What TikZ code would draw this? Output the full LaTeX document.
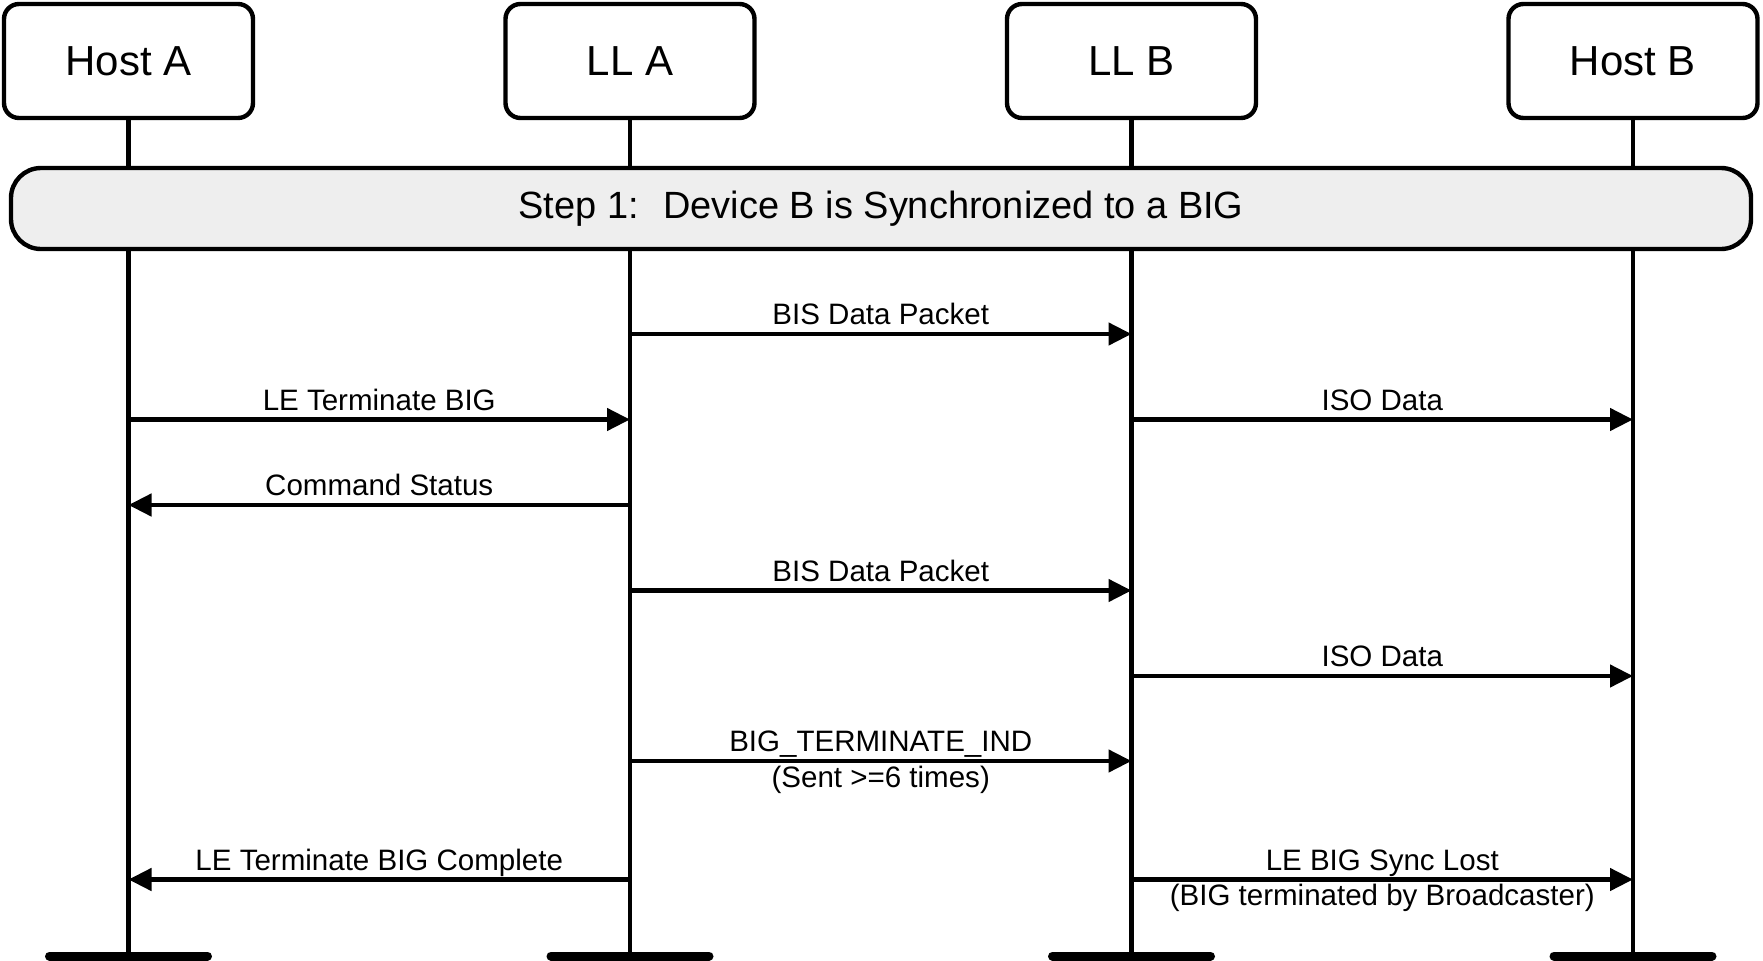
\documentclass[tikz,border=0pt]{standalone}
\usepackage{fontspec}
\setmainfont{Liberation Sans}
\usetikzlibrary{arrows.meta}
\definecolor{stepgray}{RGB}{238,238,238}

\tikzset{
  entity/.style={draw, line width=2.5pt, rounded corners=0.3cm, fill=white,
    minimum width=4.98cm, minimum height=2.28cm, font=\fontsize{23.9}{28}\selectfont},
  life/.style={line width=2.4pt},
  endbar/.style={line width=0.18cm, line cap=round},
  stepbox/.style={draw, line width=2.5pt, rounded corners=0.6cm, fill=stepgray,
    minimum width=34.8cm, minimum height=1.62cm, font=\fontsize{21.6}{26}\selectfont},
  msg/.style={line width=2.6pt, -{Triangle[length=0.46cm, width=0.44cm]}},
  msglbl/.style={font=\fontsize{16.8}{20}\selectfont, anchor=base, inner sep=0pt},
  msgtop/.style={msglbl, yshift=0.19cm},
  msgsub/.style={msglbl, yshift=-0.52cm},
}

\begin{document}
\begin{tikzpicture}
    \useasboundingbox (0,0) rectangle (35.26,-19.22);

    % participants
    \node[entity] (hostA) at (2.57,-1.22) {Host A};
    \node[entity] (llA) at (12.60,-1.22) {LL A};
    \node[entity] (llB) at (22.63,-1.22) {LL B};
    \node[entity] (hostB) at (32.66,-1.22) {Host B};

    \coordinate (bot) at (0,-19.12);

    % lifelines
    \foreach \e in {hostA,llA,llB,hostB} {
        \coordinate (\e-end) at (\e |- bot);
        \draw[life] (\e.south) -- (\e-end);
        \draw[endbar] ([xshift=-1.58cm]\e-end) -- ([xshift=1.58cm]\e-end);
    }

    \node[stepbox] (step1) at (17.62,-4.17) {Step 1:~ Device B is Synchronized to a BIG};

    % message rows
    \coordinate (m1) at (0,-6.68);
    \coordinate (m2) at (0,-8.39);
    \coordinate (m3) at (0,-10.10);
    \coordinate (m4) at (0,-11.81);
    \coordinate (m5) at (0,-13.52);
    \coordinate (m6) at (0,-15.22);
    \coordinate (m7) at (0,-17.59);

    \draw[msg] (llA |- m1) -- node[msgtop] {BIS Data Packet} (llB |- m1);
    \draw[msg] (hostA |- m2) -- node[msgtop] {LE Terminate BIG} (llA |- m2);
    \draw[msg] (llB |- m2) -- node[msgtop] {ISO Data} (hostB |- m2);
    \draw[msg] (llA |- m3) -- node[msgtop] {Command Status} (hostA |- m3);
    \draw[msg] (llA |- m4) -- node[msgtop] {BIS Data Packet} (llB |- m4);
    \draw[msg] (llB |- m5) -- node[msgtop] {ISO Data} (hostB |- m5);
    \draw[msg] (llA |- m6) -- node[msgtop] {BIG\_TERMINATE\_IND}
        node[msgsub] {(Sent >=6 times)} (llB |- m6);
    \draw[msg] (llA |- m7) -- node[msgtop] {LE Terminate BIG Complete} (hostA |- m7);
    \draw[msg] (llB |- m7) -- node[msgtop] {LE BIG Sync Lost}
        node[msgsub] {(BIG terminated by Broadcaster)} (hostB |- m7);
\end{tikzpicture}
\end{document}
